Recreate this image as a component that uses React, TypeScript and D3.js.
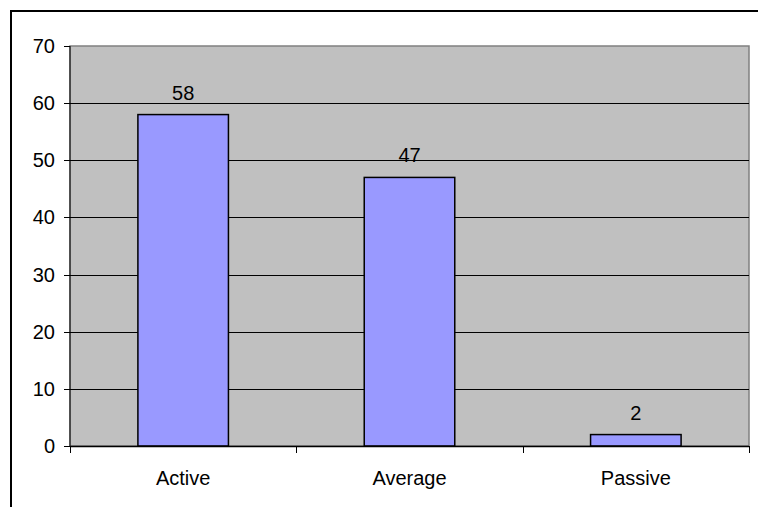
import * as d3 from "d3";
import { useEffect, useRef } from "react";

const categories = ["Active", "Average", "Passive"];
const values = [58, 47, 2];
const yTicks = [0, 10, 20, 30, 40, 50, 60, 70];

export default function App() {
  const svgRef = useRef<SVGSVGElement>(null);

  useEffect(() => {
    if (!svgRef.current) return;
    const svg = d3.select(svgRef.current);
    svg.selectAll("*").remove();

    const width = 758;
    const height = 507;
    const plot = { left: 70, top: 46, right: 749, bottom: 446 };
    const font = "Liberation Sans, Arial, sans-serif";
    const fs = 20;

    // outer chart border (only top and left show in the frame)
    svg
      .append("path")
      .attr("d", `M11,${height}V11H${width}`)
      .attr("fill", "none")
      .attr("stroke", "#000")
      .attr("stroke-width", 2);

    const x = d3.scaleBand().domain(categories).range([plot.left, plot.right]);
    const y = d3.scaleLinear().domain([0, 70]).range([plot.bottom, plot.top]);
    const barW = x.bandwidth() / 2.5;

    // plot area
    svg
      .append("rect")
      .attr("x", plot.left)
      .attr("y", plot.top)
      .attr("width", plot.right - plot.left)
      .attr("height", plot.bottom - plot.top)
      .attr("fill", "#C0C0C0")
      .attr("stroke", "#808080")
      .attr("stroke-width", 1.5);

    // gridlines
    svg
      .append("g")
      .selectAll("line")
      .data(yTicks.filter((t) => t > 0 && t < 70))
      .enter()
      .append("line")
      .attr("x1", plot.left)
      .attr("x2", plot.right)
      .attr("y1", (d) => Math.round(y(d)) + 0.5)
      .attr("y2", (d) => Math.round(y(d)) + 0.5)
      .attr("stroke", "#000")
      .attr("stroke-width", 1);

    // bars
    svg
      .append("g")
      .selectAll("rect")
      .data(values)
      .enter()
      .append("rect")
      .attr("x", (_d, i) => x(categories[i])! + (x.bandwidth() - barW) / 2)
      .attr("y", (d) => y(d))
      .attr("width", barW)
      .attr("height", (d) => plot.bottom - y(d))
      .attr("fill", "#9999FF")
      .attr("stroke", "#000")
      .attr("stroke-width", 1.5);

    // value labels
    svg
      .append("g")
      .selectAll("text")
      .data(values)
      .enter()
      .append("text")
      .attr("x", (_d, i) => x(categories[i])! + x.bandwidth() / 2)
      .attr("y", (d) => y(d) - 15)
      .attr("text-anchor", "middle")
      .attr("font-family", font)
      .attr("font-size", fs)
      .attr("fill", "#000")
      .text((d) => d);

    // y axis
    const yAxis = svg.append("g");
    yAxis
      .append("line")
      .attr("x1", plot.left)
      .attr("x2", plot.left)
      .attr("y1", plot.top)
      .attr("y2", plot.bottom)
      .attr("stroke", "#000")
      .attr("stroke-width", 1);
    yAxis
      .selectAll("line.tick")
      .data(yTicks)
      .enter()
      .append("line")
      .attr("class", "tick")
      .attr("x1", plot.left - 6)
      .attr("x2", plot.left)
      .attr("y1", (d) => Math.round(y(d)) + 0.5)
      .attr("y2", (d) => Math.round(y(d)) + 0.5)
      .attr("stroke", "#000");
    yAxis
      .selectAll("text")
      .data(yTicks)
      .enter()
      .append("text")
      .attr("x", plot.left - 15)
      .attr("y", (d) => y(d))
      .attr("dy", "0.35em")
      .attr("text-anchor", "end")
      .attr("font-family", font)
      .attr("font-size", fs)
      .text((d) => d);

    // x axis
    const xAxis = svg.append("g");
    xAxis
      .append("line")
      .attr("x1", plot.left)
      .attr("x2", plot.right)
      .attr("y1", plot.bottom + 0.5)
      .attr("y2", plot.bottom + 0.5)
      .attr("stroke", "#000")
      .attr("stroke-width", 1.5);
    const bounds = [...categories.map((c) => x(c)!), plot.right];
    xAxis
      .selectAll("line.tick")
      .data(bounds)
      .enter()
      .append("line")
      .attr("class", "tick")
      .attr("x1", (d) => Math.round(d) + 0.5)
      .attr("x2", (d) => Math.round(d) + 0.5)
      .attr("y1", plot.bottom)
      .attr("y2", plot.bottom + 7)
      .attr("stroke", "#000");
    xAxis
      .selectAll("text")
      .data(categories)
      .enter()
      .append("text")
      .attr("x", (d) => x(d)! + x.bandwidth() / 2)
      .attr("y", plot.bottom + 39)
      .attr("text-anchor", "middle")
      .attr("font-family", font)
      .attr("font-size", fs)
      .text((d) => d);
  }, []);

  return (
    <div style={{ position: "absolute", left: 0, top: 0, width: 758, height: 507, background: "#fff" }}>
      <svg ref={svgRef} width={758} height={507} style={{ display: "block" }} />
    </div>
  );
}
